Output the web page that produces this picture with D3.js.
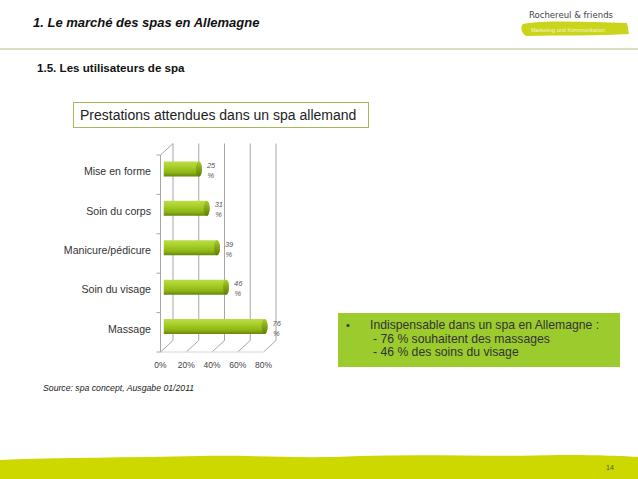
<!DOCTYPE html>
<html>
<head>
<meta charset="utf-8">
<script src="https://cdn.jsdelivr.net/npm/d3@7"></script>
<style>
  body { margin: 0; background: #fff; }
  svg { display: block; font-family: "Liberation Sans", Arial, sans-serif; }
</style>
</head>
<body>
<svg id="chart" width="638" height="479"></svg>
<script>
var categories = ['Mise en forme', 'Soin du corps', 'Manicure/pédicure', 'Soin du visage', 'Massage'];
var values = [25, 31, 39, 46, 76];
var tickValues = [0, 20, 40, 60, 80];
var noteLines = ['Indispensable dans un spa en Allemagne :', '- 76 % souhaitent des massages', '- 46 % des soins du visage'];

var svg = d3.select('#chart');

// page frame
svg.append('text')
    .attr('x', 33).attr('y', 27)
    .attr('font-size', 13).attr('font-weight', 'bold').attr('font-style', 'italic')
    .attr('fill', '#111')
    .text('1. Le marché des spas en Allemagne');

svg.append('line')
    .attr('x1', 0).attr('x2', 638).attr('y1', 49).attr('y2', 49)
    .attr('stroke', '#b7c47e').attr('stroke-width', 1.2);

svg.append('text')
    .attr('x', 37).attr('y', 72)
    .attr('font-size', 11.6).attr('font-weight', 'bold')
    .attr('fill', '#111')
    .text('1.5. Les utilisateurs de spa');

// logo
var logo = svg.append('g');
logo.append('path')
    .attr('d', 'M523,24 C545,20 590,22 627,23 L629,34 C600,36 560,35 526,36 C521,33 520,27 523,24 Z')
    .attr('fill', '#c9d41a');
logo.append('text')
    .attr('x', 529).attr('y', 18)
    .attr('font-size', 9.5).attr('fill', '#444')
    .attr('font-family', '"DejaVu Sans Condensed", "Liberation Sans Narrow", Arial, sans-serif')
    .text('Rochereul & friends');
logo.append('text')
    .attr('x', 531).attr('y', 32)
    .attr('font-size', 5.5).attr('fill', '#f4f7d0')
    .text('Marketing und Kommunikation');

// chart title box
svg.append('rect')
    .attr('x', 73.5).attr('y', 102.5).attr('width', 295).attr('height', 25)
    .attr('fill', '#fff').attr('stroke', '#a7b85a').attr('stroke-width', 1);
svg.append('text')
    .attr('x', 80).attr('y', 120)
    .attr('font-size', 14).attr('fill', '#222')
    .text('Prestations attendues dans un spa allemand');

// bar chart (pseudo 3D)
var depthX = 12.5, depthY = -11.5;
var x = d3.scaleLinear().domain([0, 80]).range([160.5, 263.5]);
var y = d3.scaleBand().domain(categories).range([155, 352]);

var defs = svg.append('defs');
var grad = defs.append('linearGradient')
    .attr('id', 'barGrad').attr('x1', 0).attr('x2', 0).attr('y1', 0).attr('y2', 1);
grad.append('stop').attr('offset', '0%').attr('stop-color', '#bcdc4a');
grad.append('stop').attr('offset', '35%').attr('stop-color', '#a8cf28');
grad.append('stop').attr('offset', '75%').attr('stop-color', '#8cb414');
grad.append('stop').attr('offset', '100%').attr('stop-color', '#66860a');
var capGrad = defs.append('linearGradient')
    .attr('id', 'capGrad').attr('x1', 0).attr('x2', 0).attr('y1', 0).attr('y2', 1);
capGrad.append('stop').attr('offset', '0%').attr('stop-color', '#a8cc2c');
capGrad.append('stop').attr('offset', '100%').attr('stop-color', '#5f7d08');

var grid = svg.append('g').attr('stroke', '#a6a6a6').attr('stroke-width', 1).attr('fill', 'none');
var yTop = y.range()[0], yBot = y.range()[1];

// back wall gridlines
grid.selectAll('line.back')
    .data(tickValues)
    .enter().append('line')
    .attr('class', 'back')
    .attr('x1', function(d){ return x(d) + depthX; })
    .attr('x2', function(d){ return x(d) + depthX; })
    .attr('y1', yTop + depthY)
    .attr('y2', yBot + depthY);

// floor diagonals
grid.selectAll('line.floor')
    .data(tickValues)
    .enter().append('line')
    .attr('class', 'floor')
    .attr('x1', function(d){ return x(d); })
    .attr('x2', function(d){ return x(d) + depthX; })
    .attr('y1', yBot)
    .attr('y2', yBot + depthY);

// left wall
grid.append('line')
    .attr('x1', x(0)).attr('x2', x(0)).attr('y1', yTop).attr('y2', yBot);
grid.append('line')
    .attr('x1', x(0)).attr('x2', x(0) + depthX).attr('y1', yTop).attr('y2', yTop + depthY);
grid.append('line')
    .attr('x1', x(0)).attr('x2', x(80)).attr('y1', yBot).attr('y2', yBot)
    .attr('stroke', '#d6d6d6');

// category ticks
grid.selectAll('line.cat')
    .data(d3.range(categories.length + 1))
    .enter().append('line')
    .attr('class', 'cat')
    .attr('x1', x(0) - 4).attr('x2', x(0))
    .attr('y1', function(i){ return yTop + i * y.step(); })
    .attr('y2', function(i){ return yTop + i * y.step(); });

// bars
var barH = 15;
var bars = svg.append('g').selectAll('g')
    .data(values)
    .enter().append('g');

bars.each(function(v, i){
    var g = d3.select(this);
    var cy = y(categories[i]) + y.bandwidth() / 2 + depthY / 2;
    var x0 = x(0) + depthX / 2 - 3;
    var x1 = x(v) + depthX / 2;
    g.append('path')
        .attr('d', 'M' + x0 + ',' + (cy - barH / 2) +
            ' L' + x1 + ',' + (cy - barH / 2) +
            ' A3,' + (barH / 2) + ' 0 0 1 ' + x1 + ',' + (cy + barH / 2) +
            ' L' + x0 + ',' + (cy + barH / 2) + ' Z')
        .attr('fill', 'url(#barGrad)');
    g.append('ellipse')
        .attr('cx', x1).attr('cy', cy)
        .attr('rx', 3).attr('ry', barH / 2)
        .attr('fill', 'url(#capGrad)');
    g.append('text')
        .attr('x', x1 + 8).attr('y', cy - 1)
        .attr('font-size', 7.5).attr('font-style', 'italic').attr('fill', '#555')
        .text(v);
    g.append('text')
        .attr('x', x1 + 8.5).attr('y', cy + 9)
        .attr('font-size', 7.5).attr('font-style', 'italic').attr('fill', '#555')
        .text('%');
});

// category labels
svg.append('g').selectAll('text')
    .data(categories)
    .enter().append('text')
    .attr('x', 151)
    .attr('y', function(d){ return y(d) + y.bandwidth() / 2 + 0.5; })
    .attr('text-anchor', 'end')
    .attr('font-size', 10.6).attr('fill', '#333')
    .text(function(d){ return d; });

// x axis labels
svg.append('g').selectAll('text')
    .data(tickValues)
    .enter().append('text')
    .attr('x', function(d){ return x(d); })
    .attr('y', 368)
    .attr('text-anchor', 'middle')
    .attr('font-size', 8.5).attr('fill', '#444')
    .text(function(d){ return d + '%'; });

// note box
svg.append('rect')
    .attr('x', 338).attr('y', 313).attr('width', 282).attr('height', 54)
    .attr('fill', '#9ccb2e');
svg.append('text')
    .attr('x', 346).attr('y', 329)
    .attr('font-size', 11).attr('fill', '#333')
    .text('•');
svg.append('g').selectAll('text')
    .data(noteLines)
    .enter().append('text')
    .attr('x', function(d, i){ return i === 0 ? 370 : 373; })
    .attr('y', function(d, i){ return 329 + i * 13.5; })
    .attr('font-size', 12.2).attr('fill', '#333')
    .text(function(d){ return d; });

// source
svg.append('text')
    .attr('x', 43).attr('y', 391)
    .attr('font-size', 8.7).attr('font-style', 'italic').attr('fill', '#222')
    .text('Source: spa concept, Ausgabe 01/2011');

// bottom band
svg.append('path')
    .attr('d', 'M0,460 C60,457 130,458 200,456 C260,455 300,459 360,456 C430,454 500,457 560,455 C600,455 625,456 638,457 L638,479 L0,479 Z')
    .attr('fill', '#cdd700');
svg.append('text')
    .attr('x', 606).attr('y', 470)
    .attr('font-size', 7).attr('fill', '#555')
    .text('14');
</script>
</body>
</html>
